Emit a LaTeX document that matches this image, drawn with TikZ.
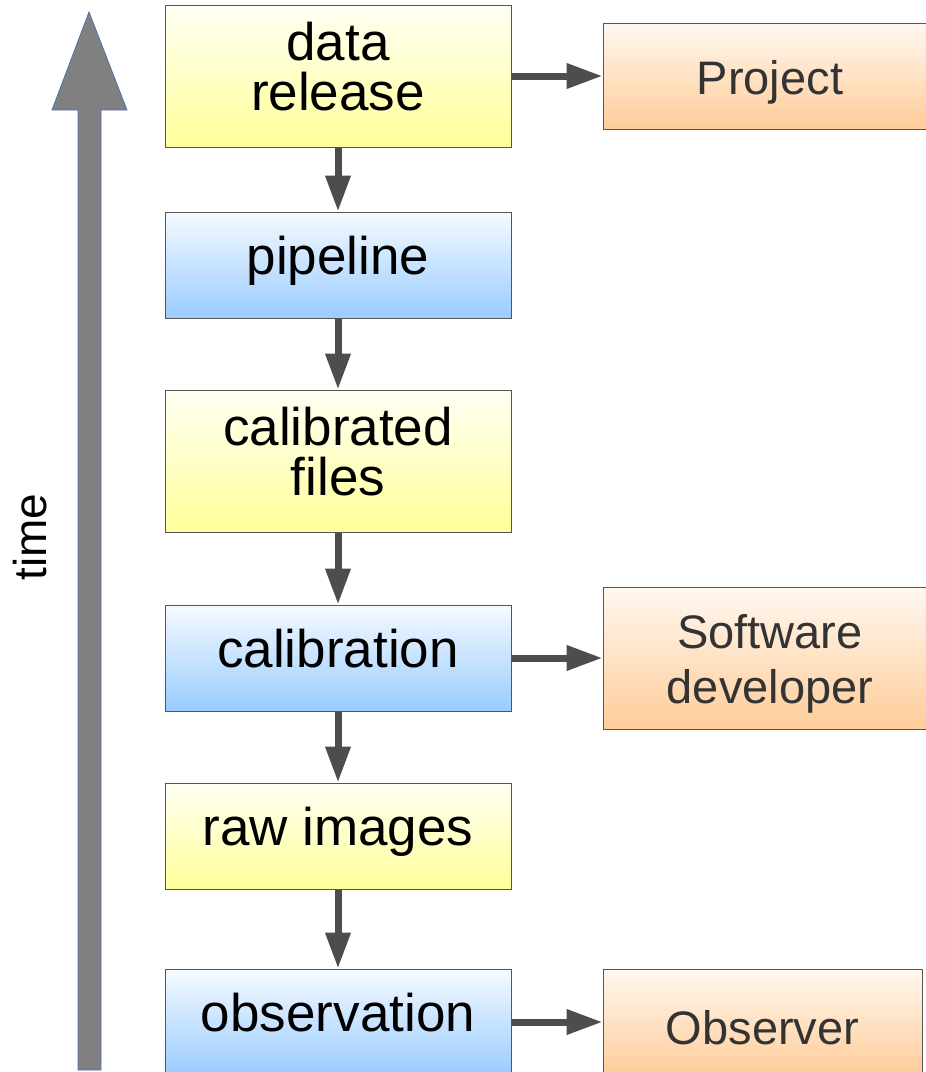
\documentclass[tikz,border=0pt]{standalone}
\usepackage{fontspec}
\setmainfont{Liberation Sans}
\usetikzlibrary{arrows.meta}
\definecolor{boxline}{HTML}{555555}
\definecolor{arrgray}{HTML}{4D4D4D}
\definecolor{yeltop}{HTML}{FFFFF4}
\definecolor{yelbot}{HTML}{FFFF99}
\definecolor{blutop}{HTML}{F6FAFF}
\definecolor{blubot}{HTML}{99CCFF}
\definecolor{oratop}{HTML}{FFF8F0}
\definecolor{orabot}{HTML}{FFCC99}
\definecolor{oratext}{HTML}{333333}
\definecolor{timefill}{HTML}{808080}
\definecolor{timeline}{HTML}{4A72B0}
\tikzset{
  box/.style = {draw=boxline, line width=1pt, align=center, inner sep=0pt,
    minimum width=346pt, text depth=20pt, font=\fontsize{53}{50}\selectfont},
  yelbox/.style = {box, top color=yeltop, bottom color=yelbot},% data stage
  blubox/.style = {box, top color=blutop, bottom color=blubot},% process stage
  orabox/.style = {box, top color=oratop, bottom color=orabot, text=oratext,
    minimum width=334pt, text height=46pt, text depth=,
    font=\fontsize{47}{55}\selectfont},% actor
  flow/.style = {-{Triangle[length=36pt,width=24pt]}, line width=7pt,
    draw=arrgray}
}

\begin{document}
\begin{tikzpicture}[x=1pt,y=-1pt]
\useasboundingbox (0,0) rectangle (926,1072);
% time axis
\filldraw [fill=timefill, draw=timeline, line width=0.8pt]
  (78,1070) -- (78,110) -- (52,110) -- (89,12) -- (127,110) -- (101,110)
  -- (101,1070) -- cycle;
\node [rotate=90, font=\fontsize{46}{46}\selectfont] (time) at (30,537) {time};
% stages
\node [yelbox, minimum height=142pt] (rel) at (338,76) {data\\release};
\node [blubox, minimum height=106pt] (pipe) at (338,265) {pipeline};
\node [yelbox, minimum height=142pt] (calf) at (338,461) {calibrated\\files};
\node [blubox, minimum height=106pt] (cal) at (338,658) {calibration};
\node [yelbox, minimum height=106pt] (raw) at (338,836) {raw images};
\node [blubox, minimum height=106pt] (obs) at (338,1022) {observation};
% actors
\node [orabox, minimum height=106pt] (proj) at (770,76) {Project};
\node [orabox, minimum height=142pt, text height=101pt] (dev) at (770,658) {Software\\developer};
\node [orabox, minimum height=106pt, minimum width=319pt] (obsr) at (762.5,1022) {Observer};
% connectors
\draw [flow] (rel) -- (pipe);
\draw [flow] (pipe) -- (calf);
\draw [flow] (calf) -- (cal);
\draw [flow] (cal) -- (raw);
\draw [flow] (raw) -- (obs);
\draw [flow] (rel) -- (proj);
\draw [flow] (cal) -- (dev);
\draw [flow] (obs) -- (obsr);
\end{tikzpicture}
\end{document}
